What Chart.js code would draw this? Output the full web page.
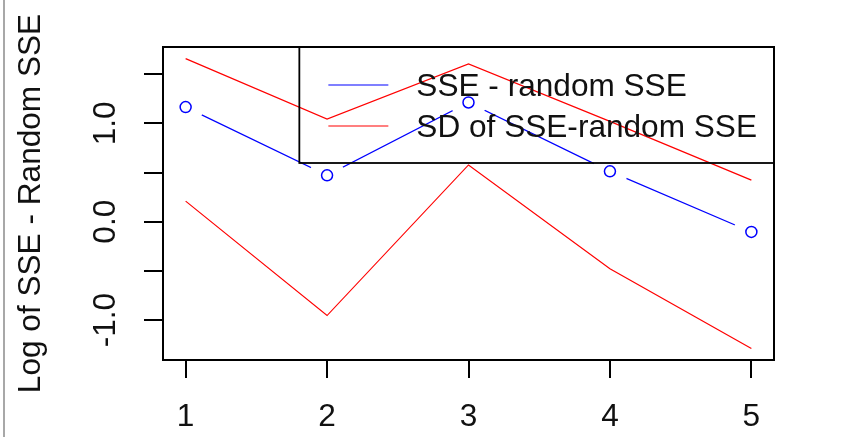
<!DOCTYPE html>
<html>
<head>
<meta charset="utf-8">
<script src="https://cdn.jsdelivr.net/npm/chart.js@4/dist/chart.umd.min.js"></script>
<style>
  html, body { margin: 0; padding: 0; background: #fff; }
  #wrap { position: relative; width: 846px; height: 437px; }
  #wrap::before { content: ""; position: absolute; left: 3px; top: 0; bottom: 0; width: 2px; background: #a8a8a8; }
  canvas { display: block; }
</style>
</head>
<body>
<div id="wrap"><canvas id="sseChart" width="846" height="437"></canvas></div>
<script>
// SSE vs random SSE, drawn to look like the R base plot

const runs = [1, 2, 3, 4, 5];
const sseDiff = [1.165, 0.471, 1.212, 0.512, -0.104];
const sdUpper = [1.658, 1.043, 1.604, 1.02, 0.423];
const sdLower = [0.209, -0.954, 0.577, -0.478, -1.288];

const xTicks = [1, 2, 3, 4, 5];
const yTicks = [-1, -0.5, 0, 0.5, 1, 1.5];
const yTickLabels = ["-1.0", "", "0.0", "", "1.0", ""];

const legendLabels = ["SSE - random SSE", "SD of SSE-random SSE"];
const legendColors = ["#0000ff", "#ff0000"];

const FONT = "'Liberation Sans', Arial, sans-serif";
const SIZE = 31.6;

// R pads the data range by 4% on each side
function padRange(vals) {
  const lo = Math.min(...vals), hi = Math.max(...vals);
  const d = (hi - lo) * 0.04;
  return [lo - d, hi + d];
}
const [xMin, xMax] = padRange(runs);
const [yMin, yMax] = padRange([...sseDiff, ...sdUpper, ...sdLower]);

const pts = ys => runs.map((x, i) => ({ x: x, y: ys[i] }));

// frame round the plot region, and the legend in its top right corner
const rBox = {
  id: "rBox",
  afterDraw(chart) {
    const { ctx, chartArea: a } = chart;
    ctx.save();
    ctx.strokeStyle = "#000";
    ctx.lineWidth = 2;
    ctx.strokeRect(a.left, a.top, a.right - a.left, a.bottom - a.top);

    ctx.font = SIZE + "px " + FONT;
    const textW = Math.max(...legendLabels.map(t => ctx.measureText(t).width));
    const textX = a.right - 17 - textW;
    const left = textX - 117;
    ctx.lineWidth = 1.8;
    ctx.strokeRect(left, a.top, a.right - left, 116);

    ctx.textBaseline = "middle";
    ctx.fillStyle = "#111";
    legendLabels.forEach((t, i) => {
      const y = a.top + 38 + i * 41;
      ctx.strokeStyle = legendColors[i];
      ctx.lineWidth = 1.2;
      ctx.beginPath();
      ctx.moveTo(textX - 88, y);
      ctx.lineTo(textX - 28, y);
      ctx.stroke();
      ctx.fillText(t, textX, y + 2);
    });
    ctx.restore();
  }
};

new Chart(document.getElementById("sseChart"), {
  type: "line",
  data: {
    datasets: [
      { label: legendLabels[0], data: pts(sseDiff), borderColor: "#0000ff", borderWidth: 1.2, pointRadius: 0, order: 4 },
      // white disc gives the gap round each point, like type = "b"
      { data: pts(sseDiff), showLine: false, pointRadius: 18, pointBackgroundColor: "#fff", pointBorderWidth: 0, order: 3 },
      { data: pts(sseDiff), showLine: false, pointRadius: 5.5, pointBorderColor: "#0000ff", pointBackgroundColor: "rgba(0,0,0,0)", pointBorderWidth: 1.5, order: 2 },
      { label: legendLabels[1], data: pts(sdUpper), borderColor: "#ff0000", borderWidth: 1.2, pointRadius: 0, order: 1 },
      { data: pts(sdLower), borderColor: "#ff0000", borderWidth: 1.2, pointRadius: 0, order: 1 }
    ]
  },
  options: {
    responsive: false,
    animation: false,
    layout: { padding: { top: 47, right: 72, bottom: 0, left: 0 } },
    plugins: { legend: { display: false }, tooltip: { enabled: false } },
    scales: {
      x: {
        type: "linear",
        min: xMin,
        max: xMax,
        afterBuildTicks: s => { s.ticks = xTicks.map(v => ({ value: v })); },
        afterFit: s => { s.height = 77; },
        border: { display: false },
        grid: { drawOnChartArea: false, tickLength: 18, color: "#000", lineWidth: 2 },
        ticks: {
          color: "#111", font: { family: FONT, size: SIZE }, padding: 20,
          maxRotation: 0, autoSkip: false, callback: v => String(v)
        }
      },
      y: {
        type: "linear",
        min: yMin,
        max: yMax,
        afterBuildTicks: s => { s.ticks = yTicks.map(v => ({ value: v })); },
        afterFit: s => { s.width = 163; },
        border: { display: false },
        grid: { drawOnChartArea: false, tickLength: 19, color: "#000", lineWidth: 2 },
        ticks: {
          color: "#111", font: { family: FONT, size: SIZE }, padding: 10,
          minRotation: 90, maxRotation: 90, crossAlign: "center", autoSkip: false,
          callback: (v, i) => yTickLabels[i]
        },
        title: {
          display: true, text: "Log of SSE - Random SSE", color: "#111",
          font: { family: FONT, size: SIZE }, padding: { top: 12, bottom: 0 }
        }
      }
    }
  },
  plugins: [rBox]
});
</script>
</body>
</html>
